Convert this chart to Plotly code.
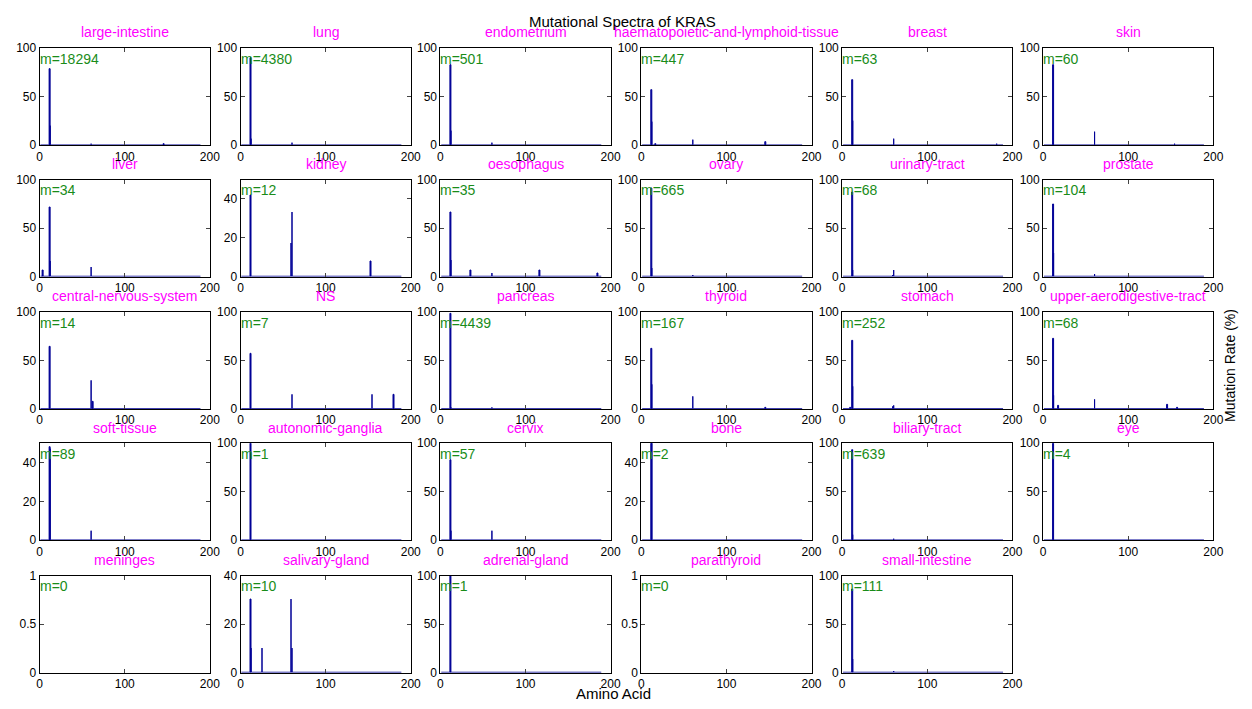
import plotly.graph_objects as go

# ---------------- data ----------------
TISSUES = [
    "large-intestine", "lung", "endometrium", "haematopoietic-and-lymphoid-tissue", "breast", "skin",
    "liver", "kidney", "oesophagus", "ovary", "urinary-tract", "prostate",
    "central-nervous-system", "NS", "pancreas", "thyroid", "stomach", "upper-aerodigestive-tract",
    "soft-tissue", "autonomic-ganglia", "cervix", "bone", "biliary-tract", "eye",
    "meninges", "salivary-gland", "adrenal-gland", "parathyroid", "small-intestine",
]
M_COUNTS = [18294, 4380, 501, 447, 63, 60,
            34, 12, 35, 665, 68, 104,
            14, 7, 4439, 167, 252, 68,
            89, 1, 57, 2, 639, 4,
            0, 10, 1, 0, 111]

# mutated codon positions per tissue (same order as TISSUES)
CODONS = [
    [12, 13, 61, 146],
    [12, 13, 61],
    [12, 13, 61],
    [12, 13, 17, 61, 146],
    [12, 13, 61, 182],
    [12, 61, 155],
    [4, 12, 13, 61],
    [12, 60, 61, 153],
    [12, 13, 36, 61, 117, 185],
    [12, 13, 61],
    [12, 13, 60, 61],
    [12, 13, 61],
    [12, 61, 63],
    [12, 61, 155, 180],
    [12, 13, 61],
    [12, 13, 61, 146],
    [10, 12, 13, 60, 61],
    [12, 13, 18, 61, 146, 158],
    [12, 13, 61],
    [12],
    [12, 13, 61],
    [12, 13],
    [12, 13, 61],
    [12],
    [],
    [12, 13, 26, 60, 61],
    [12],
    [],
    [12, 13, 61],
]
# mutation rate (%) at those codons
RATES = [
    [78, 20, 1, 1],
    [90, 6, 2],
    [82, 14, 2],
    [57, 24, 1, 5, 3],
    [67, 25, 6, 1.5],
    [83, 13, 1.5],
    [6, 71, 15, 9],
    [42, 17, 33, 8],
    [66, 17, 6, 3, 6, 3],
    [91, 8, 1],
    [87, 6, 1.5, 6],
    [74, 24, 2],
    [64, 29, 7],
    [57, 14, 14, 14],
    [98, 1, 1],
    [62, 25, 12, 1],
    [1, 70, 23, 2, 3],
    [72, 13, 3, 9, 4, 1.5],
    [48, 47, 4.5],
    [100],
    [82, 9, 9],
    [50, 50],
    [93, 5, 1],
    [100],
    [],
    [30, 10, 10, 30, 10],
    [100],
    [],
    [86, 13, 1],
]
Y_MAX = [100, 100, 100, 100, 100, 100,
         100, 50, 100, 100, 100, 100,
         100, 100, 100, 100, 100, 100,
         50, 100, 100, 50, 100, 100,
         1, 40, 100, 1, 100]
Y_DTICK = [50 if v == 100 else (0.5 if v == 1 else 20) for v in Y_MAX]
X_TICKS = [0, 100, 200]
AA_LENGTH = 189

# ---------------- layout / style ----------------
W, H = 1252, 709
COL_LEFT = [37, 240, 442, 645, 848, 1051]
PANEL_W = 172
ROW_TOP = [42, 176, 311, 445, 580]
PANEL_H = 99
BAR_COLOR = "rgb(0,0,150)"
TITLE_COLOR = "#FF00FF"
M_COLOR = "rgb(25,140,25)"
FONT = "Liberation Sans, Arial, Helvetica, sans-serif"
TICK_FONT = dict(size=12, color="black")

fig = go.Figure()
annotations = []
layout = {}

for i, name in enumerate(TISSUES):
    r, c = divmod(i, 6)
    k = i + 1
    xs = "" if k == 1 else str(k)
    left = COL_LEFT[c]
    top = ROW_TOP[r]
    layout[f"xaxis{xs}"] = dict(
        domain=[left / W, (left + PANEL_W) / W], anchor=f"y{xs}",
        range=[0, 200], tickvals=X_TICKS, ticks="inside", ticklen=4,
        showline=True, mirror="allticks", linecolor="black", linewidth=1,
        showgrid=False, zeroline=False, tickfont=TICK_FONT,
    )
    layout[f"yaxis{xs}"] = dict(
        domain=[1 - (top + PANEL_H) / H, 1 - top / H], anchor=f"x{xs}",
        range=[0, Y_MAX[i]], dtick=Y_DTICK[i], tick0=0, ticks="inside", ticklen=4,
        showline=True, mirror="allticks", linecolor="black", linewidth=1,
        showgrid=False, zeroline=False, tickfont=TICK_FONT,
    )
    if M_COUNTS[i] > 0:
        fig.add_trace(go.Scatter(
            x=[1, AA_LENGTH], y=[0, 0], mode="lines",
            line=dict(color=BAR_COLOR, width=1.5),
            xaxis=f"x{xs}", yaxis=f"y{xs}", showlegend=False, hoverinfo="skip",
        ))
    fig.add_trace(go.Bar(
        x=CODONS[i], y=RATES[i], width=0.8,
        marker=dict(color=BAR_COLOR, line=dict(color=BAR_COLOR, width=1)),
        xaxis=f"x{xs}", yaxis=f"y{xs}", showlegend=False,
    ))
    annotations.append(dict(
        text=name, xref=f"x{xs} domain", yref=f"y{xs} domain",
        x=0.5, y=1 + 16 / PANEL_H, xanchor="center", yanchor="middle",
        showarrow=False, font=dict(size=14, color=TITLE_COLOR),
    ))
    annotations.append(dict(
        text=f"m={M_COUNTS[i]}", xref=f"x{xs} domain", yref=f"y{xs} domain",
        x=0, y=1 - 11 / PANEL_H, xanchor="left", yanchor="middle", xshift=-2,
        showarrow=False, font=dict(size=14, color=M_COLOR),
    ))

annotations.append(dict(
    text="Mutational Spectra of KRAS", xref="paper", yref="paper",
    x=626 / W, y=1 - 15 / H, xanchor="center", yanchor="middle",
    showarrow=False, font=dict(size=15, color="black"),
))
annotations.append(dict(
    text="Amino Acid", xref="paper", yref="paper",
    x=617 / W, y=1 - 700 / H, xanchor="center", yanchor="middle",
    showarrow=False, font=dict(size=15, color="black"),
))
annotations.append(dict(
    text="Mutation Rate (%)", xref="paper", yref="paper",
    x=1240 / W, y=1 - 366 / H, xanchor="center", yanchor="middle", textangle=-90,
    showarrow=False, font=dict(size=14, color="black"),
))

fig.update_layout(
    width=W, height=H, margin=dict(l=0, r=0, t=0, b=0),
    paper_bgcolor="white", plot_bgcolor="white",
    font=dict(family=FONT, color="black"),
    annotations=annotations, bargap=0, **layout,
)

fig.write_html("out.html")
